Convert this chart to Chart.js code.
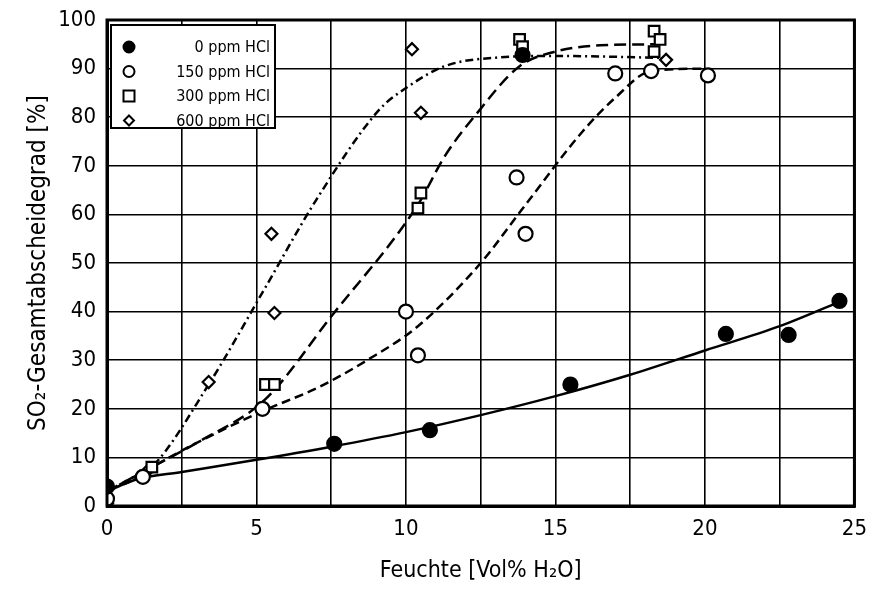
<!DOCTYPE html>
<html>
<head>
<meta charset="utf-8">
<script src="https://cdn.jsdelivr.net/npm/chart.js@4.4.1/dist/chart.umd.min.js"></script>
<style>
  html, body { margin: 0; padding: 0; background: #fff; }
  #wrap { width: 877px; height: 589px; }
</style>
</head>
<body>
<div id="wrap"><canvas id="chart"></canvas></div>
<script>
// Messpunkte je HCl-Konzentration (Feuchte in Vol% H2O, Abscheidegrad in %)
const hcl0X = [0, 7.6, 10.8, 13.9, 15.5, 20.7, 22.8, 24.5];
const hcl0Y = [4, 12.8, 15.6, 92.8, 25, 35.4, 35.2, 42.2];

const hcl150X = [0, 1.2, 5.2, 10, 10.4, 13.7, 14, 17, 18.2, 20.1];
const hcl150Y = [1.5, 6, 20, 40, 31, 67.6, 56, 89, 89.5, 88.6];

const hcl300X = [0, 1.5, 5.3, 5.6, 10.4, 10.5, 13.8, 13.9, 18.3, 18.5, 18.3];
const hcl300Y = [1, 8, 25, 25, 61.3, 64.4, 96, 94.5, 97.7, 96, 93.5];

const hcl600X = [0, 1.4, 3.4, 5.5, 5.6, 10.2, 10.5, 18.7];
const hcl600Y = [0.5, 7.5, 25.5, 56, 39.7, 94, 80.9, 91.8];

// Ausgleichskurven
const fit0X = [0, 1, 2.5, 5, 7.5, 10, 12.5, 15, 17.5, 20, 22.5, 24.5];
const fit0Y = [3, 5.5, 7, 9.5, 12.2, 15.2, 18.7, 22.6, 27, 32, 37, 42];

const fit150X = [0, 1.5, 3, 5.2, 7.1, 8.7, 10.4, 12.5, 14, 15.9, 17, 18.2, 20];
const fit150Y = [3, 8, 13, 19.5, 24.5, 30, 37, 50, 62, 77, 84, 89.5, 90];

const fit300X = [0, 1.5, 3, 5.3, 7.5, 10.4, 11.3, 12.4, 13.8, 15, 16.5, 18.3];
const fit300Y = [3, 8, 13, 22, 39, 62, 72, 81, 90.5, 93.5, 94.8, 95];

const fit600X = [0, 1.5, 3.4, 5.3, 7, 9.1, 10, 11.3, 13.1, 15, 18.7];
const fit600Y = [3, 8, 25, 45, 63, 81.5, 86, 90.5, 92.3, 92.6, 92.2];

const seriesLabels = ['0 ppm HCl', '150 ppm HCl', '300 ppm HCl', '600 ppm HCl'];

const xTicksMin = 0, xTicksMax = 25, xGridStep = 2.5, xLabelStep = 5;
const yTicksMin = 0, yTicksMax = 100, yTickStep = 10;

function pts(xs, ys) {
    return xs.map((x, i) => ({ x: x, y: ys[i] }));
}

const FONT = '"DejaVu Sans Condensed", "Liberation Sans Narrow", "Liberation Sans", sans-serif';

function markerSet(label, xs, ys, style, fill, radius) {
    return {
        label: label,
        data: pts(xs, ys),
        showLine: false,
        pointStyle: style,
        pointRadius: radius,
        pointBackgroundColor: fill,
        pointBorderColor: '#000',
        pointBorderWidth: 2.2,
        order: 0
    };
}

function curveSet(xs, ys, dash) {
    return {
        label: '',
        data: pts(xs, ys),
        showLine: true,
        borderColor: '#000',
        borderWidth: 2.5,
        borderDash: dash,
        pointRadius: 0,
        cubicInterpolationMode: 'monotone',
        fill: false,
        order: 1
    };
}

// Rahmen um die Zeichenfläche
const frame = {
    id: 'frame',
    afterDatasetsDraw(chart) {
        const a = chart.chartArea, c = chart.ctx;
        c.save();
        c.strokeStyle = '#000';
        c.lineWidth = 3;
        c.strokeRect(a.left, a.top, a.right - a.left, a.bottom - a.top);
        c.restore();
    }
};

// Legende oben links in der Zeichenfläche
const boxLegend = {
    id: 'boxLegend',
    afterDraw(chart) {
        const a = chart.chartArea, c = chart.ctx;
        const x0 = a.left + 4, y0 = a.top + 5, w = 164, h = 103;
        c.save();
        c.fillStyle = '#fff';
        c.fillRect(x0, y0, w, h);
        c.strokeStyle = '#000';
        c.lineWidth = 2;
        c.strokeRect(x0, y0, w, h);
        c.font = '16px ' + FONT;
        c.textAlign = 'right';
        c.textBaseline = 'middle';
        for (let i = 0; i < 4; i++) {
            const ds = chart.data.datasets[i];
            const cy = y0 + 22 + i * 24.5;
            const cx = x0 + 18;
            c.beginPath();
            c.lineWidth = 2;
            c.strokeStyle = '#000';
            c.fillStyle = ds.pointBackgroundColor;
            if (ds.pointStyle === 'circle') {
                c.arc(cx, cy, 5.5, 0, Math.PI * 2);
            } else if (ds.pointStyle === 'rect') {
                c.rect(cx - 5.5, cy - 5.5, 11, 11);
            } else {
                c.moveTo(cx, cy - 5); c.lineTo(cx + 5, cy);
                c.lineTo(cx, cy + 5); c.lineTo(cx - 5, cy); c.closePath();
            }
            c.fill();
            c.stroke();
            c.fillStyle = '#000';
            c.fillText(ds.label, x0 + w - 5, cy + 1);
        }
        c.restore();
    }
};

const ctx = document.getElementById('chart').getContext('2d');
const chart = new Chart(ctx, {
    type: 'scatter',
    data: {
        datasets: [
            markerSet(seriesLabels[0], hcl0X, hcl0Y, 'circle', '#000', 7),
            markerSet(seriesLabels[1], hcl150X, hcl150Y, 'circle', '#fff', 7),
            markerSet(seriesLabels[2], hcl300X, hcl300Y, 'rect', '#fff', 7.5),
            markerSet(seriesLabels[3], hcl600X, hcl600Y, 'rectRot', '#fff', 6),
            curveSet(fit0X, fit0Y, []),
            curveSet(fit150X, fit150Y, [9, 5]),
            curveSet(fit300X, fit300Y, [12, 6]),
            curveSet(fit600X, fit600Y, [8, 4, 2, 4])
        ]
    },
    options: {
        responsive: true,
        maintainAspectRatio: false,
        animation: false,
        layout: { padding: { left: 0, top: 20, right: 20, bottom: 0 } },
        plugins: {
            legend: { display: false },
            tooltip: { enabled: false }
        },
        scales: {
            x: {
                type: 'linear',
                min: xTicksMin,
                max: xTicksMax,
                afterFit(scale) { scale.height = 83; },
                grid: { color: '#000', lineWidth: 1.6, drawTicks: false },
                border: { color: '#000', width: 3 },
                ticks: {
                    stepSize: xGridStep,
                    padding: 10,
                    color: '#000',
                    font: { family: FONT, size: 22 },
                    maxRotation: 0,
                    autoSkip: false,
                    callback: v => (v % xLabelStep === 0 ? v : '')
                },
                title: {
                    display: true,
                    text: 'Feuchte [Vol% H₂O]',
                    color: '#000',
                    font: { family: FONT, size: 23 },
                    padding: { top: 8 }
                }
            },
            y: {
                min: yTicksMin,
                max: yTicksMax,
                afterFit(scale) {
                    scale.width = 107;
                    scale.paddingTop = 0;
                    scale.paddingBottom = 0;
                },
                grid: { color: '#000', lineWidth: 1.6, drawTicks: false },
                border: { color: '#000', width: 3 },
                ticks: {
                    stepSize: yTickStep,
                    padding: 11,
                    color: '#000',
                    font: { family: FONT, size: 22 }
                },
                title: {
                    display: true,
                    text: 'SO₂-Gesamtabscheidegrad [%]',
                    color: '#000',
                    font: { family: FONT, size: 24 },
                    padding: { top: 24, bottom: 0 }
                }
            }
        }
    },
    plugins: [frame, boxLegend]
});
</script>
</body>
</html>
